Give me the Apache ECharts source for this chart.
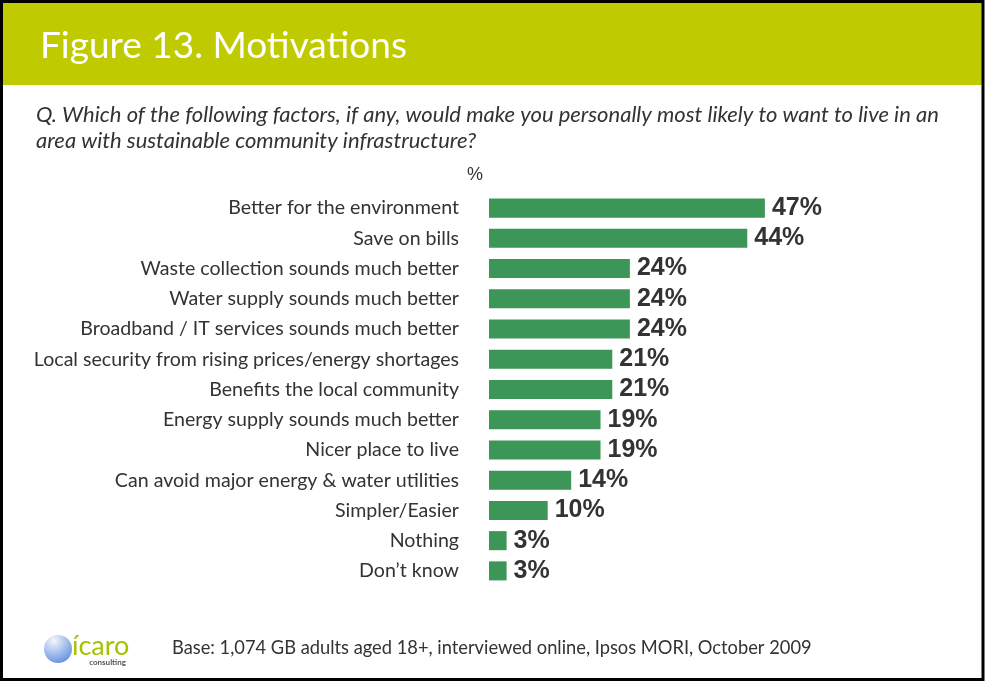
<!DOCTYPE html>
<html>
<head>
<meta charset="utf-8">
<script src="https://cdn.jsdelivr.net/npm/echarts@6/dist/echarts.min.js"></script>
<style>html,body{margin:0;padding:0;background:#fff;}#c{width:985px;height:682px;}</style>
</head>
<body>
<div id="c"></div>
<script>
const categories = [
  "Better for the environment",
  "Save on bills",
  "Waste collection sounds much better",
  "Water supply sounds much better",
  "Broadband / IT services sounds much better",
  "Local security from rising prices/energy shortages",
  "Benefits the local community",
  "Energy supply sounds much better",
  "Nicer place to live",
  "Can avoid major energy & water utilities",
  "Simpler/Easier",
  "Nothing",
  "Don\u2019t know"
];
const values = [47, 44, 24, 24, 24, 21, 21, 19, 19, 14, 10, 3, 3];
const titleText = "Figure 13. Motivations";
const questionLines = [
  "Q. Which of the following factors, if any, would make you personally most likely to want to live in an",
  "area with sustainable community infrastructure?"
];
const unitLabel = "%";
const baseText = "Base: 1,074 GB adults aged 18+, interviewed online, Ipsos MORI, October 2009";

const chart = echarts.init(document.getElementById('c'), null, {renderer: 'canvas'});
const sans = "Lato, 'Open Sans', sans-serif";
chart.setOption({
  animation: false,
  backgroundColor: '#fff',
  grid: {left: 489, top: 193, width: 293.5, height: 393, containLabel: false},
  xAxis: {type: 'value', min: 0, max: 50, show: false},
  yAxis: {
    type: 'category', data: categories, inverse: true,
    axisLine: {show: false}, axisTick: {show: false}, splitLine: {show: false},
    axisLabel: {margin: 30, fontFamily: sans, fontSize: 19.6, color: '#333', padding: [6, 0, 0, 0]}
  },
  series: [{
    type: 'bar', data: values, barCategoryGap: '37%',
    itemStyle: {color: '#3b9657'},
    label: {show: true, position: 'right', distance: 7, formatter: '{c}%', padding: [4, 0, 0, 0],
      fontFamily: "'Liberation Sans', Arial, sans-serif", fontWeight: 'bold', fontSize: 25, color: '#333'}
  }],
  graphic: [
    {type: 'rect', shape: {x: 3, y: 3, width: 979, height: 82}, style: {fill: '#bfcb00'}, z: 1},
    {type: 'text', x: 40, y: 46, style: {text: titleText, fill: '#fff', font: "37px " + sans, textVerticalAlign: 'middle'}, z: 2},
    {type: 'text', x: 36, y: 115, style: {text: questionLines[0], fill: '#333', font: "italic 22px " + sans, textVerticalAlign: 'middle'}},
    {type: 'text', x: 36, y: 141, style: {text: questionLines[1], fill: '#333', font: "italic 22px " + sans, textVerticalAlign: 'middle'}},
    {type: 'text', x: 467, y: 175, style: {text: unitLabel, fill: '#333', font: "18px 'Liberation Sans', Arial, sans-serif", textVerticalAlign: 'middle'}},
    {type: 'text', x: 172, y: 648, style: {text: baseText, fill: '#333', font: "18.3px " + sans, textVerticalAlign: 'middle'}},
    {type: 'circle', shape: {cx: 58, cy: 649, r: 14}, style: {fill: new echarts.graphic.RadialGradient(0.35, 0.2, 0.9, [{offset: 0, color: '#f4f6fb'}, {offset: 1, color: '#5b8be0'}])}},
    {type: 'text', x: 72, y: 646, style: {text: '\u00edcaro', fill: '#a3c400', font: "27px " + sans, textVerticalAlign: 'middle'}},
    {type: 'text', x: 126, y: 662, style: {text: 'consulting', fill: '#555', font: "bold 8px " + sans, textAlign: 'right', textVerticalAlign: 'middle'}},
    {type: 'rect', shape: {x: 1.5, y: 1.5, width: 981.5, height: 678}, style: {fill: 'none', stroke: '#000', lineWidth: 3}, z: 10}
  ]
});
</script>
</body>
</html>
